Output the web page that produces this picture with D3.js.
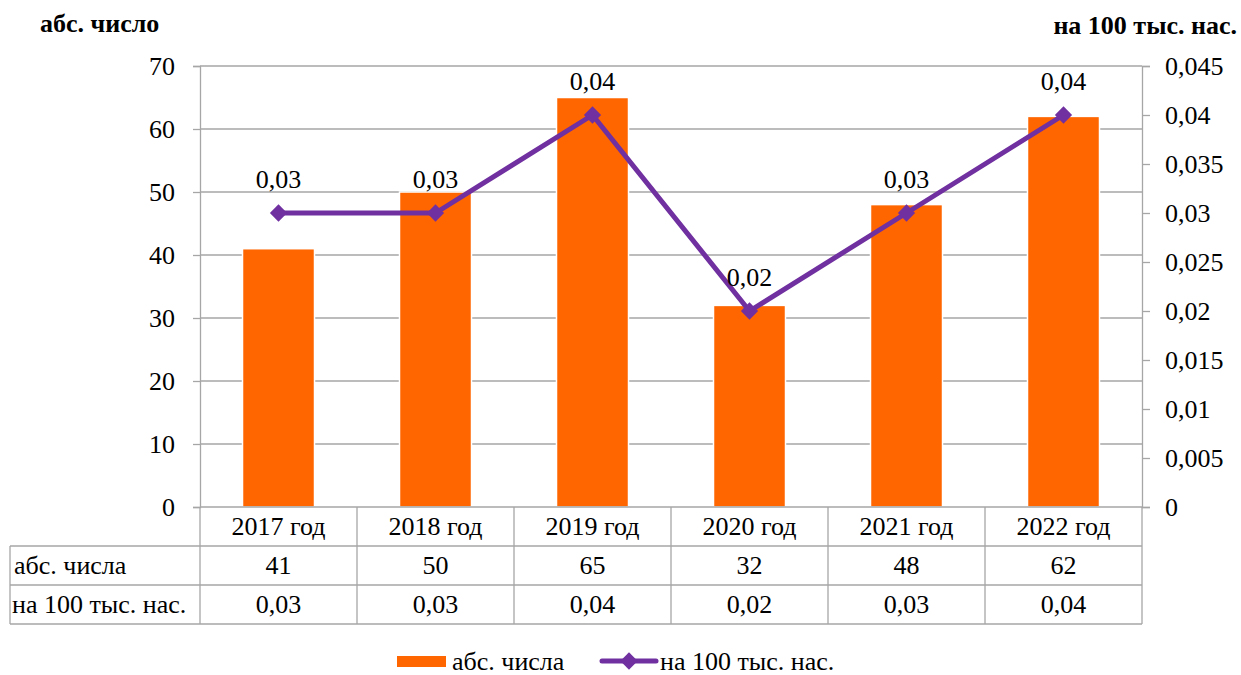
<!DOCTYPE html>
<html>
<head>
<meta charset="utf-8">
<script src="https://cdn.jsdelivr.net/npm/d3@7"></script>
</head>
<body style="margin:0;background:#fff">
<svg id="fig" width="1241" height="675"></svg>
<script>
// Data
const categories = ["2017 год", "2018 год", "2019 год", "2020 год", "2021 год", "2022 год"];
const absValues = [41, 50, 65, 32, 48, 62];
const rateValues = [0.03, 0.03, 0.04, 0.02, 0.03, 0.04];
const leftTicks = [0, 10, 20, 30, 40, 50, 60, 70];
const rightTicks = [0, 0.005, 0.01, 0.015, 0.02, 0.025, 0.03, 0.035, 0.04, 0.045];
const seriesNames = ["абс. числа", "на 100 тыс. нас."];
const leftTitle = "абс. число";
const rightTitle = "на 100 тыс. нас.";

const barColor = "#FF6600";
const lineColor = "#7030A0";
const gridColor = "#a6a6a6";
const FONT = "Liberation Serif";
const FS = 26;

const svg = d3.select("#fig");
const plot = { left: 200, right: 1142, top: 66, bottom: 507 };
const fmt = v => String(v).replace(".", ",");

const x = d3.scaleBand().domain(categories).range([plot.left, plot.right]).paddingInner(0).paddingOuter(0);
const cx = i => x(categories[i]) + x.bandwidth() / 2;
const yL = d3.scaleLinear().domain([0, 70]).range([plot.bottom, plot.top]);
const yR = d3.scaleLinear().domain([0, 0.045]).range([plot.bottom, plot.top]);

// Gridlines
svg.append("g").selectAll("line").data(leftTicks.filter(t => t > 0)).join("line")
  .attr("x1", plot.left).attr("x2", plot.right)
  .attr("y1", d => yL(d)).attr("y2", d => yL(d))
  .attr("stroke", gridColor).attr("stroke-width", 1.3);

function styleAxis(g) {
  g.attr("font-family", null).attr("font-size", null);
  g.select(".domain").attr("stroke", gridColor).attr("stroke-width", 1.3);
  g.selectAll(".tick line").attr("stroke", gridColor).attr("stroke-width", 1.3);
  g.selectAll(".tick text").attr("dy", "0.34em");
}

// Left axis
svg.append("g").attr("transform", `translate(${plot.left},0)`)
  .call(d3.axisLeft(yL).tickValues(leftTicks).tickSize(7).tickPadding(18).tickFormat(d => d))
  .call(styleAxis);

// Right axis
svg.append("g").attr("transform", `translate(${plot.right},0)`)
  .call(d3.axisRight(yR).tickValues(rightTicks).tickSize(8).tickPadding(15).tickFormat(d => fmt(+d.toFixed(3))))
  .call(styleAxis);

// Bars
const barW = 72;
svg.append("g").selectAll("rect").data(absValues).join("rect")
  .attr("x", (d, i) => cx(i) - barW / 2)
  .attr("width", barW)
  .attr("y", d => yL(d))
  .attr("height", d => plot.bottom - yL(d))
  .attr("fill", barColor)
  .attr("stroke", "#fff").attr("stroke-width", 1.5);

// Baseline over the bars
svg.append("line").attr("x1", plot.left).attr("x2", plot.right)
  .attr("y1", plot.bottom).attr("y2", plot.bottom)
  .attr("stroke", gridColor).attr("stroke-width", 1.3);

// Line series
const line = d3.line().x((d, i) => cx(i)).y(d => yR(d));
svg.append("path").datum(rateValues).attr("d", line)
  .attr("fill", "none").attr("stroke", lineColor).attr("stroke-width", 5).attr("stroke-linejoin", "round");

const diamond = d3.symbol().type(d3.symbolDiamond2).size(190);
svg.append("g").selectAll("path").data(rateValues).join("path")
  .attr("d", diamond)
  .attr("transform", (d, i) => `translate(${cx(i)},${yR(d)})`)
  .attr("fill", lineColor);

// Data labels
svg.append("g").selectAll("text").data(rateValues).join("text")
  .attr("x", (d, i) => cx(i))
  .attr("y", d => yR(d) - 25)
  .attr("text-anchor", "middle")
  .text(d => fmt(d));

// Data table
const rowTop = plot.bottom, row1 = 546, row2 = 585, row3 = 624, tableLeft = 10;
const tbl = svg.append("g").attr("stroke", gridColor).attr("stroke-width", 1.3);
[row1, row2, row3].forEach(yy => tbl.append("line").attr("x1", tableLeft).attr("x2", plot.right).attr("y1", yy).attr("y2", yy));
tbl.append("line").attr("x1", tableLeft).attr("x2", tableLeft).attr("y1", row1).attr("y2", row3);
categories.forEach(c => tbl.append("line").attr("x1", x(c)).attr("x2", x(c)).attr("y1", rowTop).attr("y2", row3));
tbl.append("line").attr("x1", plot.right).attr("x2", plot.right).attr("y1", rowTop).attr("y2", row3);

const tt = svg.append("g");
tt.selectAll(".cat").data(categories).join("text").attr("class", "cat")
  .attr("x", d => x(d) + x.bandwidth() / 2).attr("y", (rowTop + row1) / 2).attr("dy", "0.34em")
  .attr("text-anchor", "middle").text(d => d);
tt.selectAll(".abs").data(absValues).join("text").attr("class", "abs")
  .attr("x", (d, i) => cx(i)).attr("y", (row1 + row2) / 2).attr("dy", "0.34em")
  .attr("text-anchor", "middle").text(d => d);
tt.selectAll(".rate").data(rateValues).join("text").attr("class", "rate")
  .attr("x", (d, i) => cx(i)).attr("y", (row2 + row3) / 2).attr("dy", "0.34em")
  .attr("text-anchor", "middle").text(d => fmt(d));
tt.append("text").attr("x", 14).attr("y", (row1 + row2) / 2).attr("dy", "0.34em").text(seriesNames[0]);
tt.append("text").attr("x", 12).attr("y", (row2 + row3) / 2).attr("dy", "0.34em").text(seriesNames[1]);

// Legend
const lg = svg.append("g");
lg.append("rect").attr("x", 397).attr("y", 656).attr("width", 49).attr("height", 11).attr("fill", barColor);
lg.append("text").attr("x", 452).attr("y", 661).attr("dy", "0.34em").text(seriesNames[0]);
lg.append("line").attr("x1", 602).attr("x2", 656).attr("y1", 661).attr("y2", 661)
  .attr("stroke", lineColor).attr("stroke-width", 5).attr("stroke-linecap", "round");
lg.append("path").attr("d", diamond).attr("transform", "translate(629,661)").attr("fill", lineColor);
lg.append("text").attr("x", 660).attr("y", 661).attr("dy", "0.34em").text(seriesNames[1]);

// Shared text styling
svg.selectAll("text")
  .attr("font-family", FONT).style("font-family", FONT, "important")
  .attr("font-size", FS).style("font-size", FS + "px", "important")
  .attr("fill", "#000");

// Axis titles (bold)
[[leftTitle, 40, 32, "start"], [rightTitle, 1237, 34, "end"]].forEach(([t, tx, ty, anchor]) => {
  svg.append("text").attr("x", tx).attr("y", ty).attr("text-anchor", anchor).text(t)
    .attr("font-family", FONT).style("font-family", FONT, "important")
    .attr("font-size", 26).style("font-size", "26px", "important")
    .attr("font-weight", "bold").attr("fill", "#000");
});
</script>
</body>
</html>
